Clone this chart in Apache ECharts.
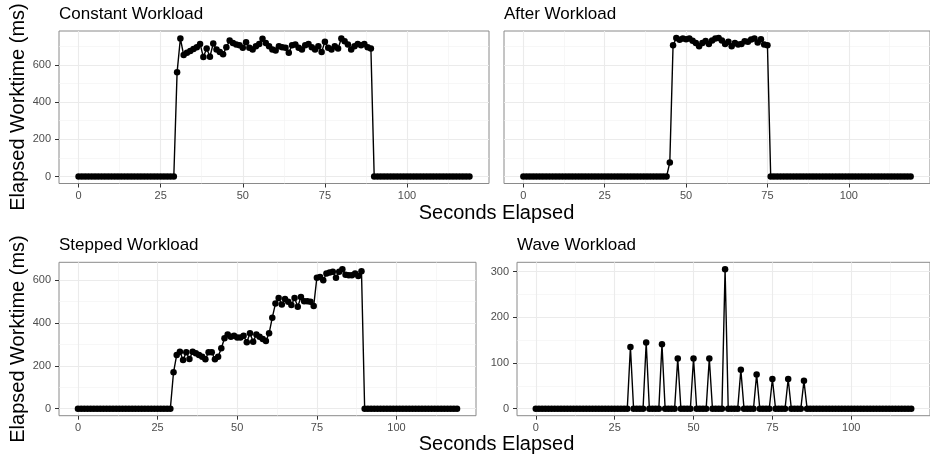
<!DOCTYPE html>
<html><head><meta charset="utf-8">
<script src="https://cdn.jsdelivr.net/npm/echarts@6/dist/echarts.min.js"></script>
<style>html,body{margin:0;padding:0;background:#fff}#c{width:930px;height:455px}</style>
</head><body><div id="c"></div>
<script>
const seconds = [0,1,2,3,4,5,6,7,8,9,10,11,12,13,14,15,16,17,18,19,20,21,22,23,24,25,26,27,28,29,
30,31,32,33,34,35,36,37,38,39,40,41,42,43,44,45,46,47,48,49,50,51,52,53,54,55,56,57,58,59,
60,61,62,63,64,65,66,67,68,69,70,71,72,73,74,75,76,77,78,79,80,81,82,83,84,85,86,87,88,89,
90,91,92,93,94,95,96,97,98,99,100,101,102,103,104,105,106,107,108,109,110,111,112,113,114,115,116,117,118,119];

const constantWorkload = [0,0,0,0,0,0,0,0,0,0,0,0,0,0,0,0,0,0,0,0,0,0,0,0,0,0,0,0,0,0,
560,742,653,665,675,685,695,713,642,688,
644,715,683,670,657,695,731,718,710,706,
692,722,692,683,700,713,740,718,700,683,
678,700,695,692,665,706,710,692,683,706,
713,695,683,700,670,724,692,683,700,688,
742,727,710,683,700,713,706,713,695,688,
0,0,0,0,0,0,0,0,0,0,0,0,0,0,0,0,0,0,0,0,0,0,0,0,0,0,0,0,0,0];

const afterWorkload = [0,0,0,0,0,0,0,0,0,0,0,0,0,0,0,0,0,0,0,0,0,0,0,0,0,0,0,0,0,0,
0,0,0,0,0,0,0,0,0,0,0,0,0,0,0,
76,
706,745,735,742,738,742,730,718,700,718,
728,713,731,742,745,731,712,724,700,718,
710,713,727,724,736,742,720,738,710,706,
0,0,0,0,0,0,0,0,0,0,0,0,0,0,0,0,0,0,0,0,0,0,0,0,0,0,0,0,0,0,0,0,0,0,0,0,0,0,0,0,0,0,0,0];

const steppedWorkload = [0,0,0,0,0,0,0,0,0,0,0,0,0,0,0,0,0,0,0,0,0,0,0,0,0,0,0,0,0,0,
170,251,266,228,264,232,266,259,251,243,
231,264,264,231,243,282,329,347,336,341,
332,332,341,310,352,313,347,336,325,316,
352,425,491,517,486,512,499,484,517,476,
522,502,502,499,480,612,615,600,631,636,
639,611,639,651,626,623,623,631,620,642,
0,0,0,0,0,0,0,0,0,0,0,0,0,0,0,0,0,0,0,0,0,0,0,0,0,0,0,0,0,0];

const waveWorkload = [0,0,0,0,0,0,0,0,0,0,0,0,0,0,0,0,0,0,0,0,0,0,0,0,0,0,0,0,0,0,
135,0,0,0,0,145,0,0,0,0,
141,0,0,0,0,110,0,0,0,0,
110,0,0,0,0,110,0,0,0,0,
305,0,0,0,0,85,0,0,0,0,
75,0,0,0,0,65,0,0,0,0,
65,0,0,0,0,61,0,0,0,0,
0,0,0,0,0,0,0,0,0,0,0,0,0,0,0,0,0,0,0,0,0,0,0,0,0,0,0,0,0,0];

const panelTitles = ['Constant Workload','After Workload','Stepped Workload','Wave Workload'];
const xTicks = [0,25,50,75,100];
const xMinor = [12.5,37.5,62.5,87.5,112.5];
const yTicksTop = [0,200,400,600];
const yMinorTop = [100,300,500,700];
const yTicksStepped = [0,200,400,600];
const yMinorStepped = [100,300,500];
const yTicksWave = [0,100,200,300];
const yMinorWave = [50,150,250];
const xTitle = 'Seconds Elapsed';
const yTitle = 'Elapsed Worktime (ms)';

const FONT = '"Liberation Sans", Arial, Helvetica, sans-serif';
function padRange(lo, hi){ const d=(hi-lo)*0.05; return [lo-d, hi+d]; }
const xr = padRange(Math.min(...seconds), Math.max(...seconds));
const topMax = Math.max(...constantWorkload, ...afterWorkload);
const yrTop = padRange(0, topMax);
const yrStep = padRange(0, Math.max(...steppedWorkload));
const yrWave = padRange(0, Math.max(...waveWorkload));

const panels = [
  {grid:{left:59, top:31, width:430, height:152.5}, vals:constantWorkload, yr:yrTop, yt:yTicksTop, ym:yMinorTop, yLabels:true},
  {grid:{left:504, top:31, width:430, height:152.5}, vals:afterWorkload, yr:yrTop, yt:yTicksTop, ym:yMinorTop, yLabels:false},
  {grid:{left:59, top:262.3, width:417, height:153.4}, vals:steppedWorkload, yr:yrStep, yt:yTicksStepped, ym:yMinorStepped, yLabels:true},
  {grid:{left:517, top:262.3, width:417, height:153.4}, vals:waveWorkload, yr:yrWave, yt:yTicksWave, ym:yMinorWave, yLabels:true}
];

const grid=[], xAxis=[], yAxis=[], series=[], graphic=[];
const major = {color:'#ebebeb', width:1.1};
const minor = {color:'#f1f1f1', width:0.6};
panels.forEach((p,i)=>{
  grid.push(Object.assign({show:true, borderColor:'#8a8a8a', borderWidth:1, backgroundColor:'transparent'}, p.grid));
  xAxis.push({gridIndex:i, type:'value', min:xr[0], max:xr[1], position:'bottom',
    axisLine:{show:false, onZero:false},
    axisTick:{show:true, customValues:xTicks, length:4, lineStyle:{color:'#333', width:1}},
    axisLabel:{show:true, customValues:xTicks, margin:7, color:'#4d4d4d', fontSize:11, fontFamily:FONT},
    splitLine:{show:true, lineStyle:major}});
  xAxis.push({gridIndex:i, type:'value', min:xr[0], max:xr[1], position:'top',
    axisLine:{show:false, onZero:false},
    axisTick:{show:false, customValues:xMinor},
    axisLabel:{show:false, customValues:xMinor},
    splitLine:{show:true, lineStyle:minor}});
  yAxis.push({gridIndex:i, type:'value', min:p.yr[0], max:p.yr[1], position:'left',
    axisLine:{show:false, onZero:false},
    axisTick:{show:p.yLabels, customValues:p.yt, length:4, lineStyle:{color:'#333', width:1}},
    axisLabel:{show:p.yLabels, customValues:p.yt, margin:8, color:'#4d4d4d', fontSize:11, fontFamily:FONT},
    splitLine:{show:true, lineStyle:major}});
  yAxis.push({gridIndex:i, type:'value', min:p.yr[0], max:p.yr[1], position:'right',
    axisLine:{show:false, onZero:false},
    axisTick:{show:false, customValues:p.ym},
    axisLabel:{show:false, customValues:p.ym},
    splitLine:{show:true, lineStyle:minor}});
  series.push({type:'line', xAxisIndex:2*i, yAxisIndex:2*i,
    data: seconds.map((s,k)=>[s, p.vals[k]]),
    symbol:'circle', symbolSize:6.5, showSymbol:true, showAllSymbol:true,
    itemStyle:{color:'#000'}, lineStyle:{color:'#000', width:1.4},
    emphasis:{disabled:true}, silent:true, z:5});
  graphic.push({type:'text', x:p.grid.left, y:p.grid.top-17,
    style:{text:panelTitles[i], font:'17px '+FONT, fill:'#000', align:'left', verticalAlign:'middle', textAlign:'left', textVerticalAlign:'middle'}});
});
// axis titles
[[107,213],[339,444]].forEach(([yc, xt])=>{
  graphic.push({type:'text', x:18, y:yc, rotation:Math.PI/2,
    style:{text:yTitle, font:'20px '+FONT, fill:'#000', align:'center', verticalAlign:'middle', textAlign:'center', textVerticalAlign:'middle'}});
  graphic.push({type:'text', x:496.5, y:xt,
    style:{text:xTitle, font:'20px '+FONT, fill:'#000', align:'center', verticalAlign:'middle', textAlign:'center', textVerticalAlign:'middle'}});
});

const chart = echarts.init(document.getElementById('c'), null, {renderer:'canvas'});
chart.setOption({animation:false, backgroundColor:'#fff', grid, xAxis, yAxis, series, graphic});
</script></body></html>
